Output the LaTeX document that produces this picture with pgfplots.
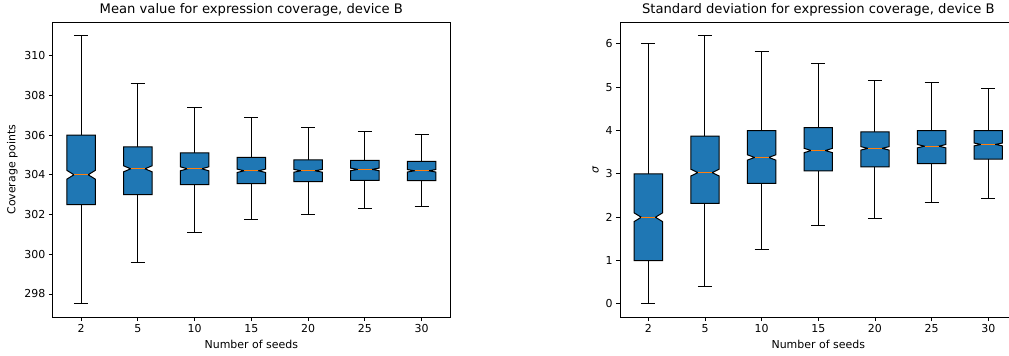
\documentclass[border=0pt]{standalone}
\usepackage{pgfplots}
\pgfplotsset{compat=1.18}
\usepackage{fontspec}
\setmainfont{DejaVu Sans}
\definecolor{mplblue}{HTML}{1F77B4}
\definecolor{mplorange}{HTML}{FF7F0E}
% notched box: position, lower whisker, q1, median, q3, upper whisker, notch half-height
\newcommand\nbox[7]{%
  \pgfmathsetmacro\nbxL{#1-0.25}%
  \pgfmathsetmacro\nbxR{#1+0.25}%
  \pgfmathsetmacro\nbxCL{#1-0.125}%
  \pgfmathsetmacro\nbxCR{#1+0.125}%
  \pgfmathsetmacro\nbxNL{#4-#7}%
  \pgfmathsetmacro\nbxNH{#4+#7}%
  \addplot[black, line width=1bp] coordinates {(#1,#3) (#1,#2)};
  \addplot[black, line width=1bp] coordinates {(#1,#5) (#1,#6)};
  \addplot[black, line width=1bp] coordinates {(\nbxCL,#2) (\nbxCR,#2)};
  \addplot[black, line width=1bp] coordinates {(\nbxCL,#6) (\nbxCR,#6)};
  \addplot[draw=black, fill=mplblue, line width=1bp] coordinates {(\nbxL,#3) (\nbxR,#3) (\nbxR,\nbxNL) (\nbxCR,#4) (\nbxR,\nbxNH) (\nbxR,#5) (\nbxL,#5) (\nbxL,\nbxNH) (\nbxCL,#4) (\nbxL,\nbxNL)} --cycle;
  \addplot[mplorange, line width=1.1bp] coordinates {(\nbxCL,#4) (\nbxCR,#4)};
}
\pgfplotsset{mplaxis/.style={
  scale only axis, anchor=south west,
  height=295bp,
  xmin=0.5, xmax=7.5,
  xtick={1,...,7}, xticklabels={2,5,10,15,20,25,30},
  axis line style={black, line width=0.9bp},
  tick style={black, line width=0.9bp},
  tick align=outside, xtick pos=bottom, ytick pos=left,
  major tick length=3.8bp,
  tick label style={font=\fontsize{11}{13}\selectfont},
  label style={font=\fontsize{11}{13}\selectfont},
  title style={font=\fontsize{13.2}{15}\selectfont, yshift=-3.5bp},
  /pgf/number format/assume math mode=true,
  no marks,
  xlabel={Number of seeds},
}}
\begin{document}
\begin{tikzpicture}
\path[use as bounding box, clip] (0,0) rectangle (1009bp,356bp);
\begin{axis}[mplaxis,
  at={(52.7bp,38.7bp)}, width=397.3bp,
  ymin=296.825, ymax=311.675,
  ytick={298,300,...,310},
  ylabel={Coverage points},
  title={Mean value for expression coverage, device B}]
\nbox{1}{297.5}{302.5}{304.0}{306.0}{311.0}{0.22}
\nbox{2}{299.6}{303.0}{304.3}{305.4}{308.6}{0.15}
\nbox{3}{301.1}{303.5}{304.3}{305.1}{307.4}{0.10}
\nbox{4}{301.75}{303.55}{304.2}{304.88}{306.87}{0.085}
\nbox{5}{302.0}{303.65}{304.2}{304.75}{306.4}{0.07}
\nbox{6}{302.3}{303.72}{304.27}{304.72}{306.18}{0.065}
\nbox{7}{302.4}{303.7}{304.2}{304.68}{306.05}{0.062}
\end{axis}
\begin{axis}[mplaxis,
  at={(620bp,38.7bp)}, width=396.6bp,
  ymin=-0.3095, ymax=6.4995,
  ytick={0,...,6},
  ylabel={{\itshape σ}},
  title={Standard deviation for expression coverage, device B}]
\nbox{1}{0}{1.0}{2.0}{3.0}{6.0}{0.1}
\nbox{2}{0.40}{2.32}{3.03}{3.87}{6.19}{0.078}
\nbox{3}{1.25}{2.78}{3.38}{4.0}{5.82}{0.061}
\nbox{4}{1.82}{3.07}{3.54}{4.07}{5.54}{0.05}
\nbox{5}{1.98}{3.16}{3.59}{3.97}{5.16}{0.04}
\nbox{6}{2.34}{3.24}{3.64}{4.0}{5.12}{0.038}
\nbox{7}{2.43}{3.34}{3.68}{4.0}{4.98}{0.033}
\end{axis}
\end{tikzpicture}
\end{document}
